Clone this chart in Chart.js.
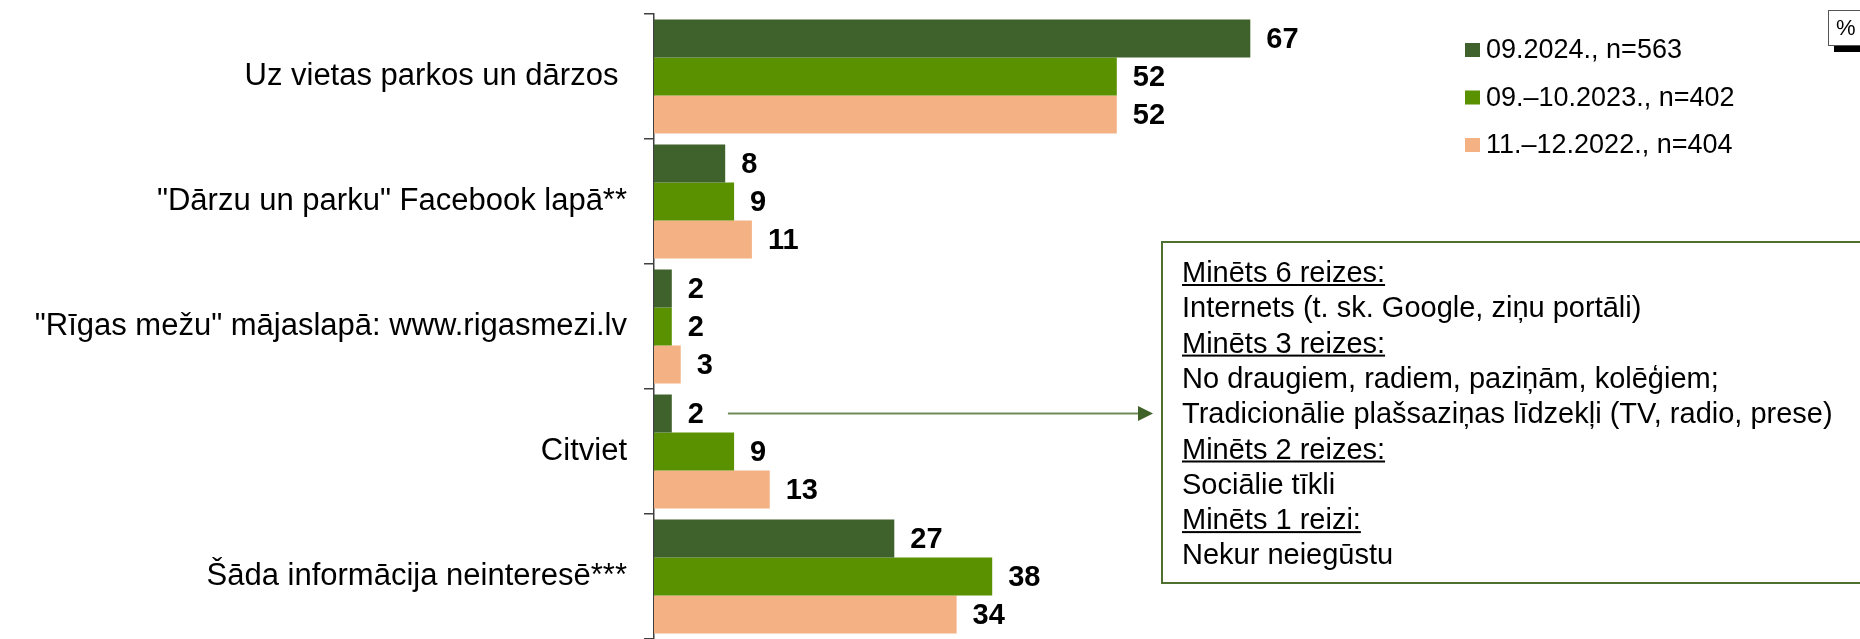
<!DOCTYPE html>
<html>
<head>
<meta charset="utf-8">
<script src="https://cdn.jsdelivr.net/npm/chart.js@4"></script>
<style>
  html, body { margin: 0; padding: 0; background: #fff; overflow: hidden; }
  #chart { display: block; }
</style>
</head>
<body>
<canvas id="chart" width="1860" height="639"></canvas>
<script>
const categories = [
  'Uz vietas parkos un dārzos ',
  '"Dārzu un parku" Facebook lapā**',
  '"Rīgas mežu" mājaslapā: www.rigasmezi.lv',
  'Citviet',
  'Šāda informācija neinteresē***',
];
const seriesLabels = ['09.2024., n=563', '09.–10.2023., n=402', '11.–12.2022., n=404'];
const values2024 = [67, 8, 2, 2, 27];
const values2023 = [52, 9, 2, 9, 38];
const values2022 = [52, 11, 3, 13, 34];
const seriesColors = ['#3f612b', '#5a9100', '#f4b183'];

// teksts rāmī pa labi (virsraksti ir pasvītroti)
const noteLines = [
  ['Minēts 6 reizes:', true],
  ['Internets (t. sk. Google, ziņu portāli)', false],
  ['Minēts 3 reizes:', true],
  ['No draugiem, radiem, paziņām, kolēģiem;', false],
  ['Tradicionālie plašsaziņas līdzekļi (TV, radio, prese)', false],
  ['Minēts 2 reizes:', true],
  ['Sociālie tīkli', false],
  ['Minēts 1 reizi:', true],
  ['Nekur neiegūstu', false],
];

const FONT = "'Liberation Sans', Arial, sans-serif";

// vērtības pie stabiņiem
const valueLabels = {
  id: 'valueLabels',
  afterDatasetsDraw(chart) {
    const ctx = chart.ctx;
    ctx.save();
    ctx.font = `bold 29px ${FONT}`;
    ctx.fillStyle = '#000';
    ctx.textBaseline = 'middle';
    ctx.textAlign = 'left';
    chart.data.datasets.forEach((ds, i) => {
      chart.getDatasetMeta(i).data.forEach((bar, j) => {
        ctx.fillText(String(ds.data[j]), bar.x + 16, bar.y + 1);
      });
    });
    ctx.restore();
  }
};

// leģenda, % rāmis, piezīmju rāmis un bulta
const extras = {
  id: 'extras',
  afterDraw(chart) {
    const ctx = chart.ctx;
    ctx.save();

    // leģenda
    ctx.font = `27px ${FONT}`;
    ctx.textBaseline = 'middle';
    ctx.textAlign = 'left';
    seriesLabels.forEach((lbl, i) => {
      const y = 50 + i * 47.5;
      ctx.fillStyle = seriesColors[i];
      ctx.fillRect(1465, y - 7, 15, 14);
      ctx.fillStyle = '#000';
      ctx.fillText(lbl, 1486, y + 1);
    });

    // % rāmis
    ctx.fillStyle = '#000';
    ctx.fillRect(1834, 46, 40, 6);
    ctx.fillStyle = '#fff';
    ctx.fillRect(1828, 10, 40, 36);
    ctx.strokeStyle = '#555';
    ctx.lineWidth = 1;
    ctx.strokeRect(1828.5, 10.5, 40, 35);
    ctx.fillStyle = '#000';
    ctx.font = `22px ${FONT}`;
    ctx.fillText('%', 1836, 29);

    // piezīmju rāmis
    const boxX = 1162, boxY = 242, boxB = 583;
    ctx.strokeStyle = '#4f6f2f';
    ctx.lineWidth = 2;
    ctx.strokeRect(boxX, boxY, 720, boxB - boxY);
    ctx.font = `29px ${FONT}`;
    ctx.fillStyle = '#000';
    ctx.textBaseline = 'alphabetic';
    noteLines.forEach(([txt, underline], i) => {
      const base = 282 + i * 35.3;
      ctx.fillText(txt, 1182, base);
      if (underline) {
        const w = ctx.measureText(txt).width;
        ctx.fillRect(1182, base + 2, w, 2);
      }
    });

    // bulta no "Citviet" 2024 vērtības līdz rāmim
    const bar = chart.getDatasetMeta(0).data[3];
    ctx.font = `bold 29px ${FONT}`;
    const lw = ctx.measureText(String(values2024[3])).width;
    const x0 = bar.x + 16 + lw + 24;
    const tip = boxX - 9;
    const y = bar.y;
    ctx.strokeStyle = '#6e8b58';
    ctx.lineWidth = 2;
    ctx.beginPath();
    ctx.moveTo(x0, y);
    ctx.lineTo(tip - 14, y);
    ctx.stroke();
    ctx.fillStyle = '#3e6228';
    ctx.beginPath();
    ctx.moveTo(tip, y);
    ctx.lineTo(tip - 15, y - 7.5);
    ctx.lineTo(tip - 15, y + 7.5);
    ctx.closePath();
    ctx.fill();

    ctx.restore();
  }
};

const data = {
  labels: categories,
  datasets: [
    { label: seriesLabels[0], data: values2024, backgroundColor: seriesColors[0] },
    { label: seriesLabels[1], data: values2023, backgroundColor: seriesColors[1] },
    { label: seriesLabels[2], data: values2022, backgroundColor: seriesColors[2] },
  ]
};

const config = {
  type: 'bar',
  data: data,
  options: {
    indexAxis: 'y',
    responsive: false,
    animation: false,
    devicePixelRatio: 1,
    layout: { padding: { top: 14, bottom: 0, left: 0, right: 316 } },
    datasets: {
      bar: { categoryPercentage: 0.912, barPercentage: 1.0 }
    },
    scales: {
      x: { type: 'linear', min: 0, max: 100, display: false },
      y: {
        afterFit(scale) {
          scale.width = 654;
          scale.paddingTop = 0;
          scale.paddingBottom = 0;
        },
        ticks: {
          color: '#000',
          padding: 17,
          font: { family: FONT, size: 31 },
        },
        grid: {
          display: true,
          drawOnChartArea: false,
          drawTicks: true,
          tickLength: 10,
          color: '#404040',
          lineWidth: 1.5,
        },
        border: { display: true, color: '#404040', width: 1.5 },
      }
    },
    plugins: {
      legend: { display: false },
      tooltip: { enabled: false },
      title: { display: false },
    }
  },
  plugins: [valueLabels, extras],
};

const myChart = new Chart(document.getElementById('chart'), config);
</script>
</body>
</html>
